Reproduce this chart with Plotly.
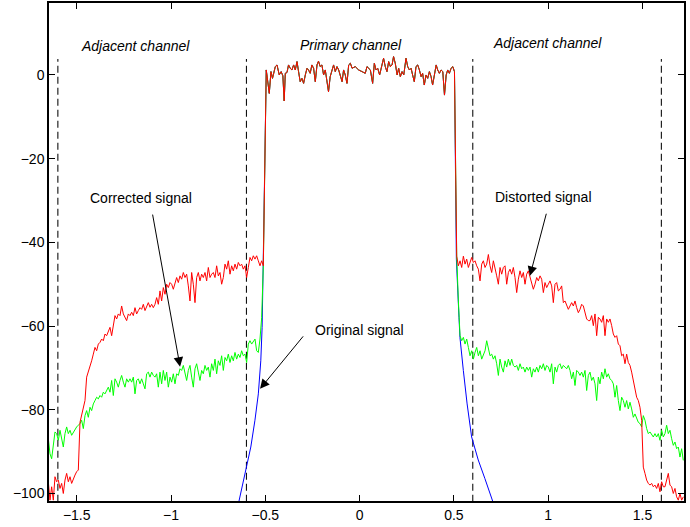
import numpy as np
import plotly.graph_objects as go

# ---------------- data ----------------
# Primary channel (all three signals almost coincide here)
band_x = [-0.495, -0.479, -0.470, -0.462, -0.447, -0.438, -0.426, -0.416, -0.407, -0.400,
          -0.394, -0.385, -0.377, -0.368, -0.359, -0.350, -0.341, -0.332, -0.324, -0.315,
          -0.306, -0.297, -0.288, -0.279, -0.271, -0.262, -0.253, -0.244, -0.235, -0.226,
          -0.218, -0.209, -0.200, -0.191, -0.182, -0.173, -0.165, -0.156, -0.147, -0.138,
          -0.129, -0.120, -0.111, -0.102, -0.093, -0.085, -0.076, -0.067, -0.058, -0.049,
          -0.040, -0.023, -0.005, 0.013, 0.030, 0.039, 0.048, 0.057, 0.069, 0.078,
          0.087, 0.096, 0.106, 0.115, 0.127, 0.136, 0.145, 0.154, 0.163, 0.172,
          0.180, 0.189, 0.199, 0.207, 0.216, 0.225, 0.234, 0.246, 0.255, 0.264,
          0.273, 0.281, 0.290, 0.299, 0.308, 0.317, 0.326, 0.334, 0.343, 0.352,
          0.361, 0.370, 0.379, 0.387, 0.396, 0.406, 0.414, 0.423, 0.432, 0.441,
          0.450, 0.459, 0.467, 0.476, 0.485, 0.494, 0.503]
band_y = [1.2, -4.4, 0.8, -0.8, 2.0, 2.4, 0.0, 0.8, -0.2, -6.2,
          0.4, 0.6, 2.4, 1.6, 1.2, 2.4, 1.2, 3.2, 0.8, -1.6,
          -0.8, -2.0, 0.0, 1.6, 1.2, 0.4, 2.4, 1.6, -1.6, 2.4,
          3.3, 2.0, 2.4, 0.0, 1.2, -1.6, -4.0, -0.4, 1.2, 2.4,
          0.8, 2.0, 1.2, -0.4, -1.6, 1.2, 0.0, -2.0, 2.4, 2.8,
          1.6, 2.0, 1.2, 0.8, 0.4, 2.0, 1.7, 1.2, -2.0, 2.8,
          1.2, 1.6, 0.0, 2.0, 4.0, 2.0, 0.8, 3.2, 2.0, 2.4,
          4.4, 2.8, 0.0, 1.6, -0.4, 0.8, 0.0, 4.0, 2.0, 1.2,
          1.6, 0.0, -1.6, 2.0, 2.4, 1.2, -0.4, 0.4, -2.4, 0.0,
          -0.8, 0.8, -0.4, -2.4, 0.4, 2.4, 1.2, 0.4, 1.2, 0.8,
          -4.8, 0.0, 1.2, 0.4, 1.6, 2.0, 0.8]

# Left adjacent channel, evenly sampled frequencies
left_x_start, left_x_end = -1.6506, -0.5106
left_red = [-97.2, -101.6, -98.4, -101.6, -96.0, -97.2, -96.8, -98.8, -97.6, -100.0,
            -96.8, -95.2, -97.2, -96.0, -97.6, -96.4, -95.6, -94.8, -94.4, -83.0,
            -81.0, -79.4, -77.8, -72.2, -71.0, -69.8, -68.3, -66.7, -65.1, -65.9,
            -64.3, -63.9, -63.1, -63.5, -61.9, -62.3, -61.5, -60.3, -62.3, -59.5,
            -57.5, -58.3, -57.1, -57.5, -55.2, -57.1, -57.9, -58.7, -57.1, -57.5,
            -56.7, -57.5, -55.6, -57.1, -56.3, -55.6, -56.0, -54.8, -56.3, -55.2,
            -54.4, -55.5, -54.8, -55.6, -54.8, -53.2, -54.8, -51.6, -54.0, -50.8,
            -52.4, -50.0, -50.8, -49.6, -50.0, -51.2, -50.0, -48.4, -49.6, -48.0,
            -48.8, -47.2, -48.4, -47.6, -50.4, -54.0, -47.2, -50.0, -54.4, -48.4,
            -47.2, -49.2, -47.6, -48.4, -47.2, -49.2, -46.0, -48.4, -47.6, -47.2,
            -48.4, -45.6, -48.0, -47.2, -50.0, -48.4, -45.2, -46.4, -44.4, -47.6,
            -45.6, -46.8, -45.2, -46.4, -44.8, -45.6, -45.2, -46.4, -45.6, -48.4,
            -46.0, -43.6, -44.4, -43.2, -44.0, -43.2, -44.4, -45.6, -44.4, -45.6]
left_green = [-86.9, -90.5, -91.7, -88.1, -85.3, -85.7, -87.3, -84.9, -87.3, -88.9,
              -85.7, -84.1, -85.7, -84.9, -86.1, -85.3, -84.9, -84.1, -83.7, -83.3,
              -82.5, -84.5, -81.4, -80.2, -81.8, -79.4, -80.2, -78.6, -77.8, -77.0,
              -77.4, -76.6, -77.0, -75.8, -76.2, -75.4, -74.6, -75.8, -73.0, -76.6,
              -72.6, -73.4, -74.6, -73.0, -71.8, -73.4, -74.6, -72.6, -73.4, -72.6,
              -73.4, -72.2, -76.2, -73.0, -72.6, -73.8, -72.6, -73.8, -75.0, -71.4,
              -71.0, -72.2, -71.0, -71.8, -72.2, -71.4, -74.6, -71.0, -73.8, -70.6,
              -73.0, -71.0, -74.6, -72.2, -73.4, -71.4, -73.8, -71.4, -71.8, -70.2,
              -70.6, -69.4, -71.0, -73.0, -70.6, -69.4, -72.2, -74.6, -70.2, -69.0,
              -71.0, -73.0, -70.6, -71.4, -69.4, -70.6, -69.8, -72.2, -69.0, -70.6,
              -67.9, -71.4, -68.3, -69.4, -67.1, -70.6, -67.5, -68.3, -66.7, -68.7,
              -67.1, -68.3, -66.3, -67.9, -66.7, -67.5, -65.9, -67.1, -66.7, -68.7,
              -64.3, -63.5, -64.3, -63.5, -63.1, -65.9, -66.3, -63.1, -58.0, -45.6]

# Right adjacent channel, evenly sampled frequencies
right_x_start, right_x_end = 0.5148, 1.7163
right_red = [-43.3, -45.6, -44.4, -46.0, -43.3, -45.2, -44.0, -46.0, -44.8, -43.6,
             -44.8, -44.4, -45.6, -46.4, -49.2, -45.2, -44.4, -46.0, -45.2, -42.9,
             -45.6, -47.2, -44.4, -46.0, -48.0, -50.0, -46.0, -47.6, -46.0, -45.6,
             -50.0, -47.2, -46.4, -47.6, -46.0, -48.4, -52.0, -48.8, -46.8, -48.4,
             -47.2, -50.0, -47.6, -46.8, -48.4, -49.6, -51.2, -50.0, -48.4, -49.2,
             -48.0, -48.8, -52.0, -49.6, -50.8, -50.0, -49.2, -50.4, -54.4, -50.0,
             -49.6, -51.6, -51.2, -50.4, -54.4,
             -54.0, -54.8, -56.0, -55.2, -54.4, -55.2, -54.0, -55.6, -56.8, -56.0,
             -54.8, -55.2, -56.8, -58.3, -58.7, -58.7, -57.5, -59.9, -57.1, -62.3,
             -57.9, -58.3, -59.1, -57.5, -62.3, -58.3, -59.1, -58.3, -59.9, -61.9,
             -62.7, -62.3, -64.3, -64.7, -67.1, -66.7, -69.0, -66.7, -68.7, -69.4,
             -71.0, -73.0, -74.6, -77.0, -77.8, -79.4, -82.5, -93.7, -95.2, -96.8,
             -97.6, -98.0, -97.6, -98.4, -98.0, -98.8, -97.6, -99.6, -97.2, -98.4,
             -98.4, -96.8, -95.2, -98.0, -98.4, -100.0, -98.8, -100.8, -101.6, -100.0,
             -101.6, -100.8]
right_green = [-43.3, -54.0,
               -62.3, -63.5, -62.7, -64.3, -63.1, -65.1, -67.1, -65.9, -67.9, -66.3,
               -65.1, -67.1, -65.9, -67.9, -66.7, -65.9, -63.5, -65.1, -67.1, -66.7,
               -67.9, -67.1, -69.0, -71.8, -67.9, -69.8, -71.0, -68.3, -69.8, -67.9,
               -69.4, -67.9, -69.4, -69.8, -69.4, -70.6, -69.0, -70.2, -69.8, -71.0,
               -69.8, -70.6, -69.8, -72.2, -70.2, -71.0, -69.8, -71.0, -69.4, -70.2,
               -69.0, -70.6, -69.4, -69.8, -71.0, -69.0, -73.8, -69.8, -71.0, -69.4,
               -69.0, -70.2, -69.4,
               -69.8, -70.2, -69.4, -70.6, -72.6, -71.0, -74.2, -70.6, -71.0, -71.8,
               -71.0, -72.2, -70.6, -75.4, -71.8, -71.0, -73.0, -72.2, -73.8, -77.8,
               -72.2, -73.8, -71.0, -72.6, -70.2, -72.2, -71.4, -72.6, -73.0, -73.8,
               -77.0, -74.2, -77.8, -80.2, -77.0, -77.8, -79.4, -77.8, -79.8, -78.2,
               -79.8, -81.8, -81.0, -82.1, -83.0, -83.3, -84.1, -81.4, -82.5, -84.5,
               -85.7, -85.3, -86.1, -86.5, -85.7, -86.5, -85.7, -87.3, -84.9, -86.5,
               -85.7, -83.7, -85.7, -84.9, -86.9, -88.5, -87.7, -89.3, -88.9, -91.3,
               -89.3, -92.1]

# Original signal roll-off on both sides of the primary channel
blue_left_x = [-0.655, -0.639, -0.620, -0.599, -0.577, -0.555, -0.537, -0.524, -0.517, -0.511]
blue_left_y = [-105.0, -101.6, -97.6, -93.7, -88.9, -82.5, -76.2, -68.3, -60.3, -44.5]
blue_right_x = [0.509, 0.513, 0.527, 0.532, 0.550, 0.570, 0.594, 0.629, 0.664, 0.706, 0.722]
blue_right_y = [-20.0, -44.0, -58.0, -62.7, -70.6, -78.6, -86.5, -92.0, -96.4, -101.6, -104.0]

channel_edges = [-1.6, -0.6, 0.6, 1.6]
edge_y_range = [-102.0, 3.8]

x_ticks = [-1.5, -1.0, -0.5, 0.0, 0.5, 1.0, 1.5]
y_ticks = [-100, -80, -60, -40, -20, 0]

labels = [  # text, x, y, italic
    ("Adjacent channel", -1.188, 7.0, True),
    ("Primary channel", -0.048, 7.2, True),
    ("Adjacent channel", 0.998, 7.6, True),
    ("Corrected signal", -1.160, -29.4, False),
    ("Distorted signal", 0.974, -29.2, False),
    ("Original signal", 0.000, -61.0, False),
]
arrows = [  # head x, head y, tail x, tail y
    (-0.952, -69.7, -1.099, -33.0),
    (0.903, -48.0, 0.992, -32.8),
    (-0.528, -75.0, -0.293, -62.1),
]

# ---------------- figure ----------------
left_x = list(np.linspace(left_x_start, left_x_end, len(left_red)))
right_x = list(np.linspace(right_x_start, right_x_end, len(right_red)))

red_x = left_x + band_x + right_x
red_y = left_red + band_y + right_red
green_x = left_x + band_x + right_x
green_y = left_green + band_y + right_green
blue_x = blue_left_x + band_x + blue_right_x
blue_y = blue_left_y + band_y + blue_right_y

FONT = "Liberation Sans, Arial, Helvetica, sans-serif"

fig = go.Figure()

dx, dy = [], []
for e in channel_edges:
    dx += [e, e, None]
    dy += [edge_y_range[0], edge_y_range[1], None]
fig.add_trace(go.Scatter(x=dx, y=dy, mode="lines",
                         line=dict(color="#111111", width=1.1, dash="7px,4px"),
                         hoverinfo="skip", showlegend=False))

fig.add_trace(go.Scatter(x=blue_x, y=blue_y, mode="lines",
                         line=dict(color="#0000ff", width=1), showlegend=False))
fig.add_trace(go.Scatter(x=green_x, y=green_y, mode="lines",
                         line=dict(color="#00ff00", width=1), showlegend=False))
fig.add_trace(go.Scatter(x=red_x, y=red_y, mode="lines",
                         line=dict(color="#ff0000", width=1), showlegend=False))

for text, x, y, it in labels:
    fig.add_annotation(x=x, y=y, xref="x", yref="y", showarrow=False,
                       text=f"<i>{text}</i>" if it else text,
                       font=dict(family=FONT, size=14, color="black"),
                       xanchor="center", yanchor="middle")

for hx, hy, tx, ty in arrows:
    fig.add_annotation(x=hx, y=hy, ax=tx, ay=ty, xref="x", yref="y",
                       axref="x", ayref="y", text="", showarrow=True,
                       arrowhead=2, arrowsize=1.9, arrowwidth=1,
                       arrowcolor="black")

axis_common = dict(showline=True, linecolor="black", linewidth=1.5,
                   mirror="allticks", ticks="inside", ticklen=6,
                   tickwidth=1, tickcolor="black", showgrid=False,
                   zeroline=False,
                   tickfont=dict(family=FONT, size=14, color="black"))

fig.update_xaxes(range=[-1.647, 1.720], tickvals=x_ticks, **axis_common)
fig.update_yaxes(range=[-101.8, 17.2], tickvals=y_ticks, **axis_common)

fig.update_layout(width=690, height=527,
                  margin=dict(l=49, r=6, t=1, b=26),
                  paper_bgcolor="white", plot_bgcolor="white",
                  showlegend=False)

fig.write_html("out.html", config={"displayModeBar": False},
               post_script="document.body.style.margin='0';document.body.style.padding='0';")
